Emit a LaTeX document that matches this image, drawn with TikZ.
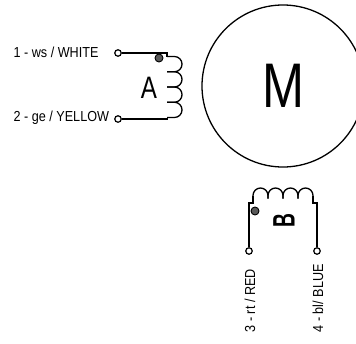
\documentclass[tikz,border=0pt]{standalone}
\usepackage{fontspec}
\setmainfont{Liberation Sans}
\newcommand{\slim}[2][.87]{\scalebox{#1}[1]{#2}}
\begin{document}
\begin{tikzpicture}[x=1pt,y=-1pt,line width=1.3pt,
    terminal/.style={circle,draw,fill=white,inner sep=0pt,minimum size=6.5pt,line width=1.2pt},
    phase/.style={circle,draw,fill=black!65,inner sep=0pt,minimum size=8pt,line width=.9pt},
    wirelabel/.style={inner sep=0pt,font=\fontsize{14.5}{14.5}\selectfont},
    coilname/.style={inner sep=0pt,font=\fontsize{31}{31}\selectfont}]
   \clip (0,0) rectangle (356,343);
   \node[circle,draw,inner sep=0pt,minimum size=162pt] (motor) at (283,86) {};
   \node[inner sep=0pt,font=\fontsize{63}{63}\selectfont] (m) at (283,86) {\slim[.8]{M}};
   % coil A
   \node[terminal] (t1) at (118,53) {};
   \node[terminal] (t2) at (118,119) {};
   \coordinate (a1) at (167,53);
   \coordinate (a2) at (167,119);
   \draw (t1) -- (a1) -- (167,56.5);
   \draw (t2) -- (a2) -- (167,117.5);
   \foreach \y in {56.5,71.75,87,102.25}
     \draw (167,\y) -- (174.4,\y) arc[start angle=-90,end angle=90,radius=7.625] -- +(-7.4,0);
   \node[phase] (dota) at (159,58) {};
   \node[coilname] (a) at (149,88) {\slim[.78]{A}};
   \node[wirelabel,anchor=west] (l1) at (13,52) {\slim{1 - ws / WHITE}};
   \node[wirelabel,anchor=west] (l2) at (13,118) {\slim{2 - ge / YELLOW}};
   % coil B
   \node[terminal] (t3) at (249,251) {};
   \node[terminal] (t4) at (317,251) {};
   \coordinate (b1) at (249,203);
   \coordinate (b2) at (317,203);
   \draw (t3) -- (b1) -- (253,203) -- (253,195.5);
   \draw (t4) -- (b2) -- (313,203) -- (313,195.5);
   \foreach \x in {253,268,283,298}
     \draw (\x,198.5) -- (\x,195.5) arc[start angle=180,end angle=360,radius=7.5] -- +(0,3);
   \node[phase] (dotb) at (255,211) {};
   \node[coilname,rotate=90] (b) at (284,221) {\slim[.62]{\textbf{B}}};
   \node[wirelabel,rotate=90,anchor=west] (l3) at (250,333) {\slim{3 - rt / RED}};
   \node[wirelabel,rotate=90,anchor=west] (l4) at (318,333) {\slim{4 - bl/ BLUE}};
\end{tikzpicture}
\end{document}
